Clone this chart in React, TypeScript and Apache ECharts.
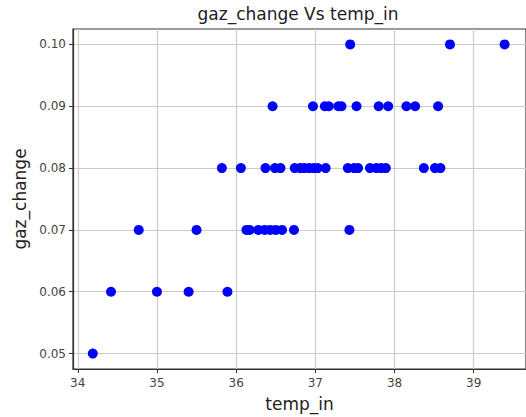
import React, { useEffect, useRef } from "react";
import * as echarts from "echarts";

// temp_in values for each gaz_change level
const gazLevels = [0.05, 0.06, 0.07, 0.08, 0.09, 0.1];
const temp005 = [34.19];
const temp006 = [34.42, 35.0, 35.4, 35.89];
const temp007 = [34.77, 35.5, 36.13, 36.17, 36.28, 36.36, 36.43, 36.5, 36.58, 36.73, 37.43];
const temp008 = [
  35.82, 36.06, 36.37, 36.49, 36.56, 36.74, 36.81, 36.86, 36.92, 36.98, 37.03, 37.13,
  37.41, 37.49, 37.54, 37.69, 37.77, 37.83, 37.89, 38.37, 38.51, 38.58,
];
const temp009 = [36.46, 36.97, 37.12, 37.17, 37.29, 37.33, 37.52, 37.8, 37.92, 38.15, 38.26, 38.55];
const temp010 = [37.44, 38.7, 39.39];
const tempRows = [temp005, temp006, temp007, temp008, temp009, temp010];

const xTicks = [34, 35, 36, 37, 38, 39];
const yTicks = [0.05, 0.06, 0.07, 0.08, 0.09, 0.1];

const FONT = "DejaVu Sans";

export default function App() {
  const ref = useRef<HTMLDivElement>(null);
  useEffect(() => {
    document.body.style.margin = "0";
    const chart = echarts.init(ref.current!, null, { renderer: "svg" });
    const data: number[][] = [];
    tempRows.forEach((row, i) => row.forEach((t) => data.push([t, gazLevels[i]])));
    chart.setOption({
      animation: false,
      backgroundColor: "#ffffff",
      graphic: [
        {
          type: "text",
          x: 298,
          y: 14,
          style: {
            text: "gaz_change Vs temp_in",
            font: `17px '${FONT}'`,
            fill: "#222",
            align: "center",
            verticalAlign: "middle",
          },
        },
      ],
      grid: {
        left: 73,
        top: 29,
        width: 457,
        height: 341,
        show: true,
        borderColor: "#333",
        borderWidth: 1.2,
        containLabel: false,
      },
      xAxis: {
        type: "value",
        min: 33.94,
        max: 39.66,
        name: "temp_in",
        nameLocation: "middle",
        nameGap: 26,
        nameTextStyle: { fontFamily: FONT, fontSize: 17, color: "#222" },
        axisLine: { show: true, onZero: false, lineStyle: { color: "#333", width: 1.2 } },
        axisTick: { show: true, length: 4, lineStyle: { color: "#333" }, customValues: xTicks },
        axisLabel: {
          customValues: xTicks,
          fontFamily: FONT,
          fontSize: 12,
          color: "#444",
          margin: 8,
        },
        splitLine: { show: true, lineStyle: { color: "#cccccc", width: 1.2 } },
      },
      yAxis: {
        type: "value",
        min: 0.0475,
        max: 0.1025,
        name: "gaz_change",
        nameLocation: "middle",
        nameGap: 40,
        nameTextStyle: { fontFamily: FONT, fontSize: 17, color: "#222" },
        axisLine: { show: true, onZero: false, lineStyle: { color: "#333", width: 1.2 } },
        axisTick: { show: true, length: 4, lineStyle: { color: "#333" }, customValues: yTicks },
        axisLabel: {
          customValues: yTicks,
          fontFamily: FONT,
          fontSize: 12,
          color: "#444",
          margin: 7,
          formatter: (v: number) => v.toFixed(2),
        },
        splitLine: { show: true, lineStyle: { color: "#cccccc", width: 1.2 } },
      },
      series: [
        {
          type: "scatter",
          data,
          symbol: "circle",
          symbolSize: 10,
          itemStyle: { color: "#0000ff", opacity: 1 },
          z: 5,
        },
      ],
    });
    return () => chart.dispose();
  }, []);
  return <div ref={ref} style={{ width: 526, height: 417 }} />;
}
